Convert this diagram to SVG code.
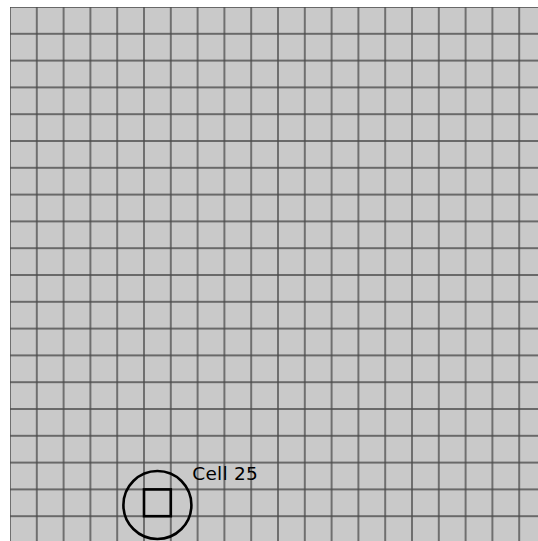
<svg xmlns="http://www.w3.org/2000/svg" width="538" height="541" viewBox="0 0 538 541">
<style>
.mk{stroke:#000;stroke-width:2.6;fill:none}
.lbl{font-family:"DejaVu Sans",sans-serif;font-size:18.5px;fill:#000}
</style>
<defs>
<pattern id="cells" x="10" y="7" width="26.8" height="26.8" patternUnits="userSpaceOnUse">
<rect width="26.8" height="26.8" fill="#c9c9c9"/>
<path d="M0 0V26.8M26.8 0V26.8M0 0H26.8M0 26.8H26.8" stroke="#4a4a4a" stroke-width="1.4" fill="none"/>
</pattern>
</defs>
<rect width="538" height="541" fill="#fff"/>
<g id="grid">
<rect x="10" y="7" width="528" height="534" fill="url(#cells)"/>
</g>
<g id="cell25">
<rect class="mk" x="144" y="489.4" width="26.8" height="26.8"/>
<circle class="mk" cx="157.4" cy="505" r="34"/>
<text class="lbl" x="192.3" y="480" textLength="65.4">Cell 25</text>
</g>
<g id="connectors"/>
</svg>
